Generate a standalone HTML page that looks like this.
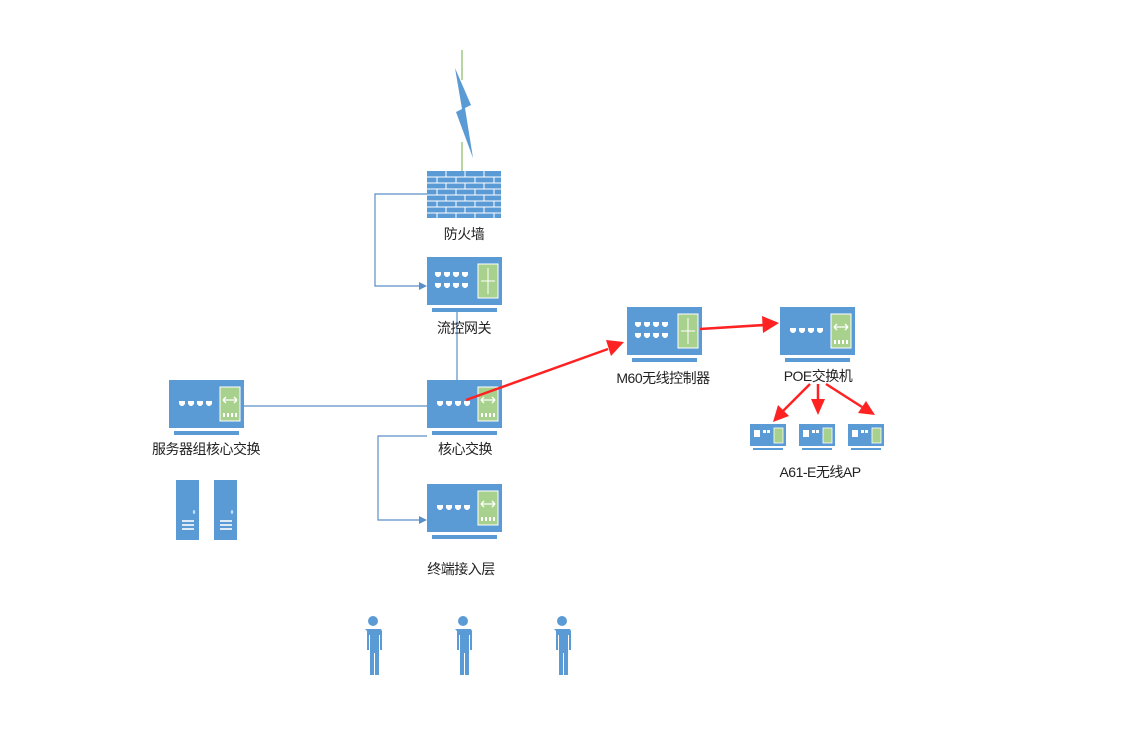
<!DOCTYPE html>
<html><head><meta charset="utf-8"><style>
html,body{margin:0;padding:0;background:#fff;width:1130px;height:755px;overflow:hidden}
svg text{font-family:"Liberation Sans","Noto Sans CJK SC",sans-serif;font-size:14px;fill:#222;text-anchor:middle;letter-spacing:-0.5px}
</style></head><body>
<svg width="1130" height="755" viewBox="0 0 1130 755" xmlns="http://www.w3.org/2000/svg">
<defs>
<g id="ports4" fill="#fff">
<path d="M0 0h6v3l-2 2h-2l-2-2z"/><path d="M9 0h6v3l-2 2h-2l-2-2z"/><path d="M18 0h6v3l-2 2h-2l-2-2z"/><path d="M27 0h6v3l-2 2h-2l-2-2z"/>
</g>
<g id="sw">
<rect x="0" y="0" width="75" height="48" fill="#5b9bd5"/>
<rect x="5" y="51" width="65" height="4" fill="#5b9bd5"/>
<use href="#ports4" x="10" y="21"/>
<rect x="51" y="7" width="20" height="34" fill="#a9d18e" stroke="#fff" stroke-width="1"/>
<path d="M54 20h14M54 20l3-3M54 20l3 3M68 20l-3-3M68 20l-3 3" stroke="#fff" stroke-width="1.3" fill="none"/>
<g fill="#fff"><rect x="54" y="33" width="2" height="4"/><rect x="58" y="33" width="2" height="4"/><rect x="62" y="33" width="2" height="4"/><rect x="66" y="33" width="2" height="4"/></g>
</g>
<g id="rt">
<rect x="0" y="0" width="75" height="48" fill="#5b9bd5"/>
<rect x="5" y="51" width="65" height="4" fill="#5b9bd5"/>
<use href="#ports4" x="8" y="15"/><use href="#ports4" x="8" y="26"/>
<rect x="51" y="7" width="20" height="34" fill="#a9d18e" stroke="#fff" stroke-width="1"/>
<path d="M61 11v26M54 24h14" stroke="#fff" stroke-width="1" fill="none"/>
</g>
<g id="ap">
<rect x="0" y="0" width="36" height="22" fill="#5b9bd5"/>
<rect x="3" y="24" width="30" height="2" fill="#5b9bd5"/>
<rect x="4" y="6" width="6" height="7" fill="#fff"/>
<rect x="13" y="6" width="3" height="3" fill="#fff"/><rect x="17" y="6" width="3" height="3" fill="#fff"/>
<rect x="24" y="4" width="9" height="15" fill="#a9d18e" stroke="#fff" stroke-width="0.8"/>
</g>
<g id="srv">
<rect x="0" y="0" width="23" height="60" fill="#5b9bd5"/>
<ellipse cx="18" cy="32" rx="1.2" ry="2" fill="#bdf"/>
<rect x="6" y="40" width="12" height="2" fill="#fff" opacity=".8"/>
<rect x="6" y="44" width="12" height="2" fill="#fff" opacity=".8"/>
<rect x="6" y="48" width="12" height="2" fill="#fff" opacity=".8"/>
</g>
<g id="man" fill="#5b9bd5">
<circle cx="0" cy="7" r="5"/>
<path d="M-8 15h16l1 2v19h-2v-15h-1v40h-4v-22h-1v22h-4v-40h-1v15h-2v-19z"/>
</g>
</defs>

<!-- lightning -->
<line x1="462" y1="50" x2="462" y2="80" stroke="#70ad47" stroke-width="1"/>
<line x1="462" y1="142" x2="462" y2="171" stroke="#70ad47" stroke-width="1"/>
<path d="M455 68 L471 105 L465 108 L473 158 L456 112 L462 109 Z" fill="#5b9bd5"/>

<!-- firewall -->
<rect x="427" y="171" width="74" height="47" fill="#5b9bd5"/>
<g stroke="#fff" stroke-width="1">
<line x1="427" y1="177" x2="501" y2="177"/><line x1="427" y1="183" x2="501" y2="183"/>
<line x1="427" y1="189" x2="501" y2="189"/><line x1="427" y1="195" x2="501" y2="195"/>
<line x1="427" y1="201" x2="501" y2="201"/><line x1="427" y1="207" x2="501" y2="207"/>
<line x1="427" y1="213" x2="501" y2="213"/>
<path d="M446 171v6M465 171v6M484 171v6M437 177v6M456 177v6M475 177v6M494 177v6M446 183v6M465 183v6M484 183v6M437 189v6M456 189v6M475 189v6M494 189v6M446 195v6M465 195v6M484 195v6M437 201v6M456 201v6M475 201v6M494 201v6M446 207v6M465 207v6M484 207v6M437 213v5M456 213v5M475 213v5M494 213v5"/>
</g>
<text x="464" y="239">防火墙</text>

<!-- connectors blue -->
<g stroke="#5b8fc7" stroke-width="1.2" fill="none">
<path d="M427 194H375V286H420"/>
<path d="M457 310V406"/>
<path d="M244 406H440"/>
<path d="M427 436H378V520H420"/>
</g>
<path d="M427 286l-8-4v8z" fill="#5b8fc7"/>
<path d="M427 520l-8-4v8z" fill="#5b8fc7"/>

<use href="#rt" x="427" y="257"/>
<text x="464" y="333">流控网关</text>

<use href="#sw" x="427" y="380"/>
<text x="465" y="454">核心交换</text>

<use href="#sw" x="169" y="380"/>
<text x="206" y="454">服务器组核心交换</text>

<use href="#sw" x="427" y="484"/>
<text x="461" y="574">终端接入层</text>

<use href="#srv" x="176" y="480"/>
<use href="#srv" x="214" y="480"/>

<use href="#man" x="373" y="614"/>
<use href="#man" x="463" y="614"/>
<use href="#man" x="562" y="614"/>

<use href="#rt" x="627" y="307"/>
<text x="663" y="383">M60无线控制器</text>

<use href="#sw" x="780" y="307"/>
<text x="818" y="381">POE交换机</text>

<use href="#ap" x="750" y="424"/>
<use href="#ap" x="799" y="424"/>
<use href="#ap" x="848" y="424"/>
<text x="820" y="477">A61-E无线AP</text>

<!-- red arrows -->
<g stroke="#f22" stroke-width="2.5" fill="none">
<line x1="466" y1="400" x2="608" y2="349"/>
<line x1="700" y1="329" x2="764" y2="325"/>
<line x1="810" y1="384" x2="782" y2="412"/>
<line x1="818" y1="384" x2="818" y2="402"/>
<line x1="826" y1="384" x2="862" y2="407"/>
</g>
<g fill="#f22">
<path d="M624 342 L606 340 L611 356 Z"/>
<path d="M779 323 L762 316 L763 333 Z"/>
<path d="M773 422 L778 405 L789 416 Z"/>
<path d="M818 415 L811 399 L825 399 Z"/>
<path d="M875 415 L858 413 L866 401 Z"/>
</g>
</svg>
</body></html>
